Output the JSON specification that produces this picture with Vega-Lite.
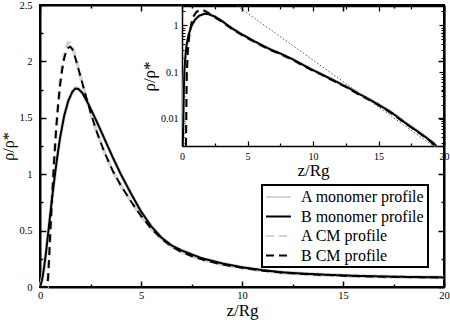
{
"$schema": "https://vega.github.io/schema/vega-lite/v6.json",
"width": 404, "height": 282,
"autosize": {"type": "none"},
"padding": {"left": 40, "top": 5, "right": 6, "bottom": 41},
"background": "white",
"config": {
  "view": {"stroke": "black", "strokeWidth": 2},
  "font": "Liberation Serif, Times New Roman, Times, DejaVu Serif, serif",
  "axis": {"grid": false, "domainColor": "black", "tickColor": "black", "labelColor": "black", "titleColor": "black", "labelFont": "Liberation Serif, Times New Roman, Times, DejaVu Serif, serif", "titleFont": "Liberation Serif, Times New Roman, Times, DejaVu Serif, serif", "titleFontWeight": "normal", "labelFlush": false, "labelOverlap": false},
  "legend": {"orient": "none", "legendX": 222, "legendY": 180, "strokeColor": "black", "strokeWidth": 2, "fillColor": "white", "padding": 3, "labelFont": "Liberation Serif, Times New Roman, Times, DejaVu Serif, serif", "labelFontSize": 16, "labelColor": "black", "symbolType": "M-1,0H2.125", "symbolSize": 256, "symbolStrokeWidth": 2, "labelOffset": 18, "rowPadding": 2.5, "labelLimit": 300, "title": null}
},
"datasets": {
  "main": [
    {"s":"B monomer profile","z":0,"v":0},{"s":"B monomer profile","z":0.1,"v":0.06},{"s":"B monomer profile","z":0.2,"v":0.17},{"s":"B monomer profile","z":0.3,"v":0.31},{"s":"B monomer profile","z":0.4,"v":0.47},{"s":"B monomer profile","z":0.5,"v":0.63},{"s":"B monomer profile","z":0.6,"v":0.79},{"s":"B monomer profile","z":0.7,"v":0.94},{"s":"B monomer profile","z":0.8,"v":1.08},{"s":"B monomer profile","z":0.9,"v":1.21},{"s":"B monomer profile","z":1,"v":1.33},{"s":"B monomer profile","z":1.2,"v":1.52},{"s":"B monomer profile","z":1.4,"v":1.65},{"s":"B monomer profile","z":1.6,"v":1.73},{"s":"B monomer profile","z":1.75,"v":1.76},{"s":"B monomer profile","z":1.9,"v":1.755},{"s":"B monomer profile","z":2.1,"v":1.72},{"s":"B monomer profile","z":2.4,"v":1.62},{"s":"B monomer profile","z":2.8,"v":1.47},{"s":"B monomer profile","z":3.2,"v":1.31},{"s":"B monomer profile","z":3.6,"v":1.15},{"s":"B monomer profile","z":4,"v":1.0},{"s":"B monomer profile","z":4.5,"v":0.83},{"s":"B monomer profile","z":5,"v":0.67},{"s":"B monomer profile","z":5.5,"v":0.54},{"s":"B monomer profile","z":6,"v":0.44},{"s":"B monomer profile","z":6.5,"v":0.37},{"s":"B monomer profile","z":7,"v":0.325},{"s":"B monomer profile","z":7.5,"v":0.29},{"s":"B monomer profile","z":8,"v":0.255},{"s":"B monomer profile","z":9,"v":0.21},{"s":"B monomer profile","z":10,"v":0.175},{"s":"B monomer profile","z":11,"v":0.15},{"s":"B monomer profile","z":12,"v":0.13},{"s":"B monomer profile","z":13,"v":0.119},{"s":"B monomer profile","z":14,"v":0.11},{"s":"B monomer profile","z":15,"v":0.103},{"s":"B monomer profile","z":16,"v":0.097},{"s":"B monomer profile","z":17,"v":0.093},{"s":"B monomer profile","z":18,"v":0.09},{"s":"B monomer profile","z":19,"v":0.087},{"s":"B monomer profile","z":20,"v":0.085},
    {"s":"A monomer profile","z":0,"v":0},{"s":"A monomer profile","z":0.1,"v":0.06},{"s":"A monomer profile","z":0.2,"v":0.17},{"s":"A monomer profile","z":0.3,"v":0.31},{"s":"A monomer profile","z":0.4,"v":0.47},{"s":"A monomer profile","z":0.5,"v":0.63},{"s":"A monomer profile","z":0.6,"v":0.79},{"s":"A monomer profile","z":0.7,"v":0.94},{"s":"A monomer profile","z":0.8,"v":1.08},{"s":"A monomer profile","z":0.9,"v":1.21},{"s":"A monomer profile","z":1,"v":1.33},{"s":"A monomer profile","z":1.2,"v":1.52},{"s":"A monomer profile","z":1.4,"v":1.65},{"s":"A monomer profile","z":1.6,"v":1.73},{"s":"A monomer profile","z":1.75,"v":1.765},{"s":"A monomer profile","z":1.9,"v":1.76},{"s":"A monomer profile","z":2.1,"v":1.72},{"s":"A monomer profile","z":2.4,"v":1.62},{"s":"A monomer profile","z":2.8,"v":1.47},{"s":"A monomer profile","z":3.2,"v":1.31},{"s":"A monomer profile","z":3.6,"v":1.15},{"s":"A monomer profile","z":4,"v":1.0},{"s":"A monomer profile","z":4.5,"v":0.83},{"s":"A monomer profile","z":5,"v":0.67},{"s":"A monomer profile","z":5.5,"v":0.54},{"s":"A monomer profile","z":6,"v":0.44},{"s":"A monomer profile","z":6.5,"v":0.37},{"s":"A monomer profile","z":7,"v":0.325},{"s":"A monomer profile","z":7.5,"v":0.29},{"s":"A monomer profile","z":8,"v":0.255},{"s":"A monomer profile","z":9,"v":0.21},{"s":"A monomer profile","z":10,"v":0.175},{"s":"A monomer profile","z":11,"v":0.15},{"s":"A monomer profile","z":12,"v":0.13},{"s":"A monomer profile","z":13,"v":0.119},{"s":"A monomer profile","z":14,"v":0.11},{"s":"A monomer profile","z":15,"v":0.103},{"s":"A monomer profile","z":16,"v":0.097},{"s":"A monomer profile","z":17,"v":0.093},{"s":"A monomer profile","z":18,"v":0.09},{"s":"A monomer profile","z":19,"v":0.087},{"s":"A monomer profile","z":20,"v":0.085},
    {"s":"B CM profile","z":0,"v":0},{"s":"B CM profile","z":0.35,"v":0},{"s":"B CM profile","z":0.4,"v":0.08},{"s":"B CM profile","z":0.45,"v":0.25},{"s":"B CM profile","z":0.5,"v":0.45},{"s":"B CM profile","z":0.6,"v":0.8},{"s":"B CM profile","z":0.7,"v":1.12},{"s":"B CM profile","z":0.8,"v":1.4},{"s":"B CM profile","z":0.9,"v":1.62},{"s":"B CM profile","z":1,"v":1.8},{"s":"B CM profile","z":1.1,"v":1.93},{"s":"B CM profile","z":1.2,"v":2.03},{"s":"B CM profile","z":1.3,"v":2.09},{"s":"B CM profile","z":1.4,"v":2.12},{"s":"B CM profile","z":1.5,"v":2.13},{"s":"B CM profile","z":1.6,"v":2.11},{"s":"B CM profile","z":1.7,"v":2.06},{"s":"B CM profile","z":1.8,"v":2.0},{"s":"B CM profile","z":2,"v":1.87},{"s":"B CM profile","z":2.2,"v":1.74},{"s":"B CM profile","z":2.5,"v":1.55},{"s":"B CM profile","z":2.8,"v":1.38},{"s":"B CM profile","z":3.2,"v":1.19},{"s":"B CM profile","z":3.6,"v":1.03},{"s":"B CM profile","z":4,"v":0.9},{"s":"B CM profile","z":4.5,"v":0.76},{"s":"B CM profile","z":5,"v":0.63},{"s":"B CM profile","z":5.5,"v":0.52},{"s":"B CM profile","z":6,"v":0.43},{"s":"B CM profile","z":6.5,"v":0.36},{"s":"B CM profile","z":7,"v":0.31},{"s":"B CM profile","z":7.5,"v":0.275},{"s":"B CM profile","z":8,"v":0.245},{"s":"B CM profile","z":9,"v":0.2},{"s":"B CM profile","z":10,"v":0.17},{"s":"B CM profile","z":11,"v":0.145},{"s":"B CM profile","z":12,"v":0.127},{"s":"B CM profile","z":13,"v":0.116},{"s":"B CM profile","z":14,"v":0.107},{"s":"B CM profile","z":15,"v":0.1},{"s":"B CM profile","z":16,"v":0.095},{"s":"B CM profile","z":17,"v":0.091},{"s":"B CM profile","z":18,"v":0.088},{"s":"B CM profile","z":19,"v":0.086},{"s":"B CM profile","z":20,"v":0.084},
    {"s":"A CM profile","z":0,"v":0},{"s":"A CM profile","z":0.35,"v":0},{"s":"A CM profile","z":0.4,"v":0.08},{"s":"A CM profile","z":0.45,"v":0.25},{"s":"A CM profile","z":0.5,"v":0.45},{"s":"A CM profile","z":0.6,"v":0.8},{"s":"A CM profile","z":0.7,"v":1.12},{"s":"A CM profile","z":0.8,"v":1.41},{"s":"A CM profile","z":0.9,"v":1.63},{"s":"A CM profile","z":1,"v":1.82},{"s":"A CM profile","z":1.1,"v":1.96},{"s":"A CM profile","z":1.2,"v":2.06},{"s":"A CM profile","z":1.3,"v":2.13},{"s":"A CM profile","z":1.4,"v":2.165},{"s":"A CM profile","z":1.5,"v":2.16},{"s":"A CM profile","z":1.6,"v":2.13},{"s":"A CM profile","z":1.7,"v":2.07},{"s":"A CM profile","z":1.8,"v":2.01},{"s":"A CM profile","z":2,"v":1.87},{"s":"A CM profile","z":2.2,"v":1.74},{"s":"A CM profile","z":2.5,"v":1.55},{"s":"A CM profile","z":2.8,"v":1.38},{"s":"A CM profile","z":3.2,"v":1.19},{"s":"A CM profile","z":3.6,"v":1.03},{"s":"A CM profile","z":4,"v":0.9},{"s":"A CM profile","z":4.5,"v":0.76},{"s":"A CM profile","z":5,"v":0.63},{"s":"A CM profile","z":5.5,"v":0.52},{"s":"A CM profile","z":6,"v":0.43},{"s":"A CM profile","z":6.5,"v":0.36},{"s":"A CM profile","z":7,"v":0.31},{"s":"A CM profile","z":7.5,"v":0.275},{"s":"A CM profile","z":8,"v":0.245},{"s":"A CM profile","z":9,"v":0.2},{"s":"A CM profile","z":10,"v":0.17},{"s":"A CM profile","z":11,"v":0.145},{"s":"A CM profile","z":12,"v":0.127},{"s":"A CM profile","z":13,"v":0.116},{"s":"A CM profile","z":14,"v":0.107},{"s":"A CM profile","z":15,"v":0.1},{"s":"A CM profile","z":16,"v":0.095},{"s":"A CM profile","z":17,"v":0.091},{"s":"A CM profile","z":18,"v":0.088},{"s":"A CM profile","z":19,"v":0.086},{"s":"A CM profile","z":20,"v":0.084}
  ],
  "inset": [
    {"s":"B monomer profile","z":0.06,"v":0.0026},{"s":"B monomer profile","z":0.1,"v":0.01},{"s":"B monomer profile","z":0.14,"v":0.04},{"s":"B monomer profile","z":0.18,"v":0.1},{"s":"B monomer profile","z":0.25,"v":0.2},{"s":"B monomer profile","z":0.35,"v":0.38},{"s":"B monomer profile","z":0.5,"v":0.62},{"s":"B monomer profile","z":0.74,"v":1.0},{"s":"B monomer profile","z":1.0,"v":1.33},{"s":"B monomer profile","z":1.3,"v":1.6},{"s":"B monomer profile","z":1.7,"v":1.77},{"s":"B monomer profile","z":2.0,"v":1.74},{"s":"B monomer profile","z":2.5,"v":1.55},{"s":"B monomer profile","z":3.0,"v":1.27},{"s":"B monomer profile","z":3.5,"v":1.0},{"s":"B monomer profile","z":4.0,"v":0.8},{"s":"B monomer profile","z":4.5,"v":0.66},{"s":"B monomer profile","z":5.0,"v":0.55},{"s":"B monomer profile","z":5.5,"v":0.46},{"s":"B monomer profile","z":6.0,"v":0.39},{"s":"B monomer profile","z":6.5,"v":0.33},{"s":"B monomer profile","z":7.0,"v":0.285},{"s":"B monomer profile","z":7.5,"v":0.25},{"s":"B monomer profile","z":8.0,"v":0.215},{"s":"B monomer profile","z":8.5,"v":0.185},{"s":"B monomer profile","z":9.0,"v":0.155},{"s":"B monomer profile","z":9.5,"v":0.13},{"s":"B monomer profile","z":10,"v":0.11},{"s":"B monomer profile","z":10.5,"v":0.094},{"s":"B monomer profile","z":11,"v":0.08},{"s":"B monomer profile","z":11.5,"v":0.068},{"s":"B monomer profile","z":12,"v":0.058},{"s":"B monomer profile","z":12.3,"v":0.052},{"s":"B monomer profile","z":12.5,"v":0.049},{"s":"B monomer profile","z":12.8,"v":0.044},{"s":"B monomer profile","z":13,"v":0.041},{"s":"B monomer profile","z":13.5,"v":0.034},{"s":"B monomer profile","z":14,"v":0.029},{"s":"B monomer profile","z":14.5,"v":0.024},{"s":"B monomer profile","z":15,"v":0.02},{"s":"B monomer profile","z":15.5,"v":0.0165},{"s":"B monomer profile","z":16,"v":0.0135},{"s":"B monomer profile","z":16.5,"v":0.0106},{"s":"B monomer profile","z":17,"v":0.0083},{"s":"B monomer profile","z":17.5,"v":0.0066},{"s":"B monomer profile","z":18,"v":0.0053},{"s":"B monomer profile","z":18.5,"v":0.0042},{"s":"B monomer profile","z":19,"v":0.0033},{"s":"B monomer profile","z":19.2,"v":0.003},{"s":"B monomer profile","z":19.4,"v":0.0026},
    {"s":"A monomer profile","z":0.06,"v":0.0026},{"s":"A monomer profile","z":0.1,"v":0.01},{"s":"A monomer profile","z":0.14,"v":0.04},{"s":"A monomer profile","z":0.18,"v":0.1},{"s":"A monomer profile","z":0.25,"v":0.2},{"s":"A monomer profile","z":0.35,"v":0.38},{"s":"A monomer profile","z":0.5,"v":0.62},{"s":"A monomer profile","z":0.74,"v":1.0},{"s":"A monomer profile","z":1.0,"v":1.33},{"s":"A monomer profile","z":1.3,"v":1.6},{"s":"A monomer profile","z":1.7,"v":1.77},{"s":"A monomer profile","z":2.0,"v":1.74},{"s":"A monomer profile","z":2.5,"v":1.55},{"s":"A monomer profile","z":3.0,"v":1.27},{"s":"A monomer profile","z":3.5,"v":1.0},{"s":"A monomer profile","z":4.0,"v":0.8},{"s":"A monomer profile","z":4.5,"v":0.66},{"s":"A monomer profile","z":5.0,"v":0.55},{"s":"A monomer profile","z":5.5,"v":0.46},{"s":"A monomer profile","z":6.0,"v":0.39},{"s":"A monomer profile","z":6.5,"v":0.33},{"s":"A monomer profile","z":7.0,"v":0.285},{"s":"A monomer profile","z":7.5,"v":0.25},{"s":"A monomer profile","z":8.0,"v":0.215},{"s":"A monomer profile","z":8.5,"v":0.186},{"s":"A monomer profile","z":9.0,"v":0.155},{"s":"A monomer profile","z":9.5,"v":0.131},{"s":"A monomer profile","z":10,"v":0.11},{"s":"A monomer profile","z":10.5,"v":0.095},{"s":"A monomer profile","z":11,"v":0.08},{"s":"A monomer profile","z":11.5,"v":0.069},{"s":"A monomer profile","z":12,"v":0.058},{"s":"A monomer profile","z":12.5,"v":0.05},{"s":"A monomer profile","z":13,"v":0.042},{"s":"A monomer profile","z":13.5,"v":0.035},{"s":"A monomer profile","z":14,"v":0.029},{"s":"A monomer profile","z":14.5,"v":0.025},{"s":"A monomer profile","z":15,"v":0.02},{"s":"A monomer profile","z":15.5,"v":0.017},{"s":"A monomer profile","z":16,"v":0.0135},{"s":"A monomer profile","z":16.5,"v":0.011},{"s":"A monomer profile","z":17,"v":0.0085},{"s":"A monomer profile","z":17.5,"v":0.0068},{"s":"A monomer profile","z":18,"v":0.0055},{"s":"A monomer profile","z":18.5,"v":0.0043},{"s":"A monomer profile","z":19,"v":0.0034},{"s":"A monomer profile","z":19.4,"v":0.0026},
    {"s":"B CM profile","z":0.3,"v":0.0026},{"s":"B CM profile","z":0.32,"v":0.008},{"s":"B CM profile","z":0.34,"v":0.03},{"s":"B CM profile","z":0.37,"v":0.1},{"s":"B CM profile","z":0.45,"v":0.3},{"s":"B CM profile","z":0.55,"v":0.6},{"s":"B CM profile","z":0.7,"v":1.05},{"s":"B CM profile","z":0.9,"v":1.6},{"s":"B CM profile","z":1.1,"v":1.93},{"s":"B CM profile","z":1.3,"v":2.09},{"s":"B CM profile","z":1.5,"v":2.13},{"s":"B CM profile","z":1.7,"v":2.06},{"s":"B CM profile","z":2.0,"v":1.85},{"s":"B CM profile","z":2.5,"v":1.5},{"s":"B CM profile","z":3.0,"v":1.22},{"s":"B CM profile","z":3.5,"v":0.97},{"s":"B CM profile","z":4.0,"v":0.78},{"s":"B CM profile","z":4.5,"v":0.64},{"s":"B CM profile","z":5.0,"v":0.535},{"s":"B CM profile","z":5.5,"v":0.447},{"s":"B CM profile","z":6.0,"v":0.378},{"s":"B CM profile","z":6.5,"v":0.32},{"s":"B CM profile","z":7.0,"v":0.277},{"s":"B CM profile","z":7.5,"v":0.243},{"s":"B CM profile","z":8.0,"v":0.209},{"s":"B CM profile","z":8.5,"v":0.18},{"s":"B CM profile","z":9.0,"v":0.15},{"s":"B CM profile","z":9.5,"v":0.126},{"s":"B CM profile","z":10,"v":0.107},{"s":"B CM profile","z":10.5,"v":0.092},{"s":"B CM profile","z":11,"v":0.078},{"s":"B CM profile","z":11.5,"v":0.066},{"s":"B CM profile","z":12,"v":0.056},{"s":"B CM profile","z":12.5,"v":0.048},{"s":"B CM profile","z":13,"v":0.04},{"s":"B CM profile","z":13.5,"v":0.033},{"s":"B CM profile","z":14,"v":0.028},{"s":"B CM profile","z":14.5,"v":0.0235},{"s":"B CM profile","z":15,"v":0.0195},{"s":"B CM profile","z":15.5,"v":0.016},{"s":"B CM profile","z":16,"v":0.013},{"s":"B CM profile","z":16.5,"v":0.0103},{"s":"B CM profile","z":17,"v":0.0081},{"s":"B CM profile","z":17.5,"v":0.0065},{"s":"B CM profile","z":18,"v":0.0052},{"s":"B CM profile","z":18.5,"v":0.0041},{"s":"B CM profile","z":19,"v":0.0032},{"s":"B CM profile","z":19.3,"v":0.0026},
    {"s":"A CM profile","z":0.3,"v":0.0026},{"s":"A CM profile","z":0.32,"v":0.008},{"s":"A CM profile","z":0.34,"v":0.03},{"s":"A CM profile","z":0.37,"v":0.1},{"s":"A CM profile","z":0.45,"v":0.3},{"s":"A CM profile","z":0.55,"v":0.6},{"s":"A CM profile","z":0.7,"v":1.06},{"s":"A CM profile","z":0.9,"v":1.62},{"s":"A CM profile","z":1.1,"v":1.96},{"s":"A CM profile","z":1.3,"v":2.13},{"s":"A CM profile","z":1.5,"v":2.16},{"s":"A CM profile","z":1.7,"v":2.07},{"s":"A CM profile","z":2.0,"v":1.85},{"s":"A CM profile","z":2.5,"v":1.5},{"s":"A CM profile","z":3.0,"v":1.22},{"s":"A CM profile","z":3.5,"v":0.97},{"s":"A CM profile","z":4.0,"v":0.78},{"s":"A CM profile","z":4.5,"v":0.64},{"s":"A CM profile","z":5.0,"v":0.535},{"s":"A CM profile","z":5.5,"v":0.447},{"s":"A CM profile","z":6.0,"v":0.378},{"s":"A CM profile","z":6.5,"v":0.32},{"s":"A CM profile","z":7.0,"v":0.277},{"s":"A CM profile","z":7.5,"v":0.243},{"s":"A CM profile","z":8.0,"v":0.209},{"s":"A CM profile","z":8.5,"v":0.18},{"s":"A CM profile","z":9.0,"v":0.15},{"s":"A CM profile","z":9.5,"v":0.127},{"s":"A CM profile","z":10,"v":0.107},{"s":"A CM profile","z":10.5,"v":0.093},{"s":"A CM profile","z":11,"v":0.078},{"s":"A CM profile","z":11.5,"v":0.067},{"s":"A CM profile","z":12,"v":0.056},{"s":"A CM profile","z":12.5,"v":0.049},{"s":"A CM profile","z":13,"v":0.04},{"s":"A CM profile","z":13.5,"v":0.034},{"s":"A CM profile","z":14,"v":0.028},{"s":"A CM profile","z":14.5,"v":0.024},{"s":"A CM profile","z":15,"v":0.0195},{"s":"A CM profile","z":15.5,"v":0.0165},{"s":"A CM profile","z":16,"v":0.013},{"s":"A CM profile","z":16.5,"v":0.0107},{"s":"A CM profile","z":17,"v":0.0081},{"s":"A CM profile","z":17.5,"v":0.0068},{"s":"A CM profile","z":18,"v":0.0052},{"s":"A CM profile","z":18.5,"v":0.0043},{"s":"A CM profile","z":19,"v":0.0032},{"s":"A CM profile","z":19.3,"v":0.0026}
  ],
  "dot": [{"z": 4.23, "v": 2.6}, {"z": 19.17, "v": 0.0026}]
},
"layer": [
  {
    "data": {"name": "main"},
    "resolve": {"axis": {"x": "independent", "y": "independent"}},
    "layer": [
      {
        "transform": [{"filter": "indexof(datum.s, 'A ') === 0"}],
        "mark": {"type": "line", "strokeWidth": 3.5},
        "encoding": {
          "x": {"field": "z", "type": "quantitative", "scale": {"domain": [0, 20], "nice": false, "zero": false},
                "axis": {"orient": "bottom", "values": [0, 5, 10, 15, 20], "tickSize": -6, "tickWidth": 1.5, "domainWidth": 2, "labelPadding": 9, "labelFontSize": 10.5, "title": "z/Rg", "titleFontSize": 17, "titlePadding": 2}},
          "y": {"field": "v", "type": "quantitative", "scale": {"domain": [0, 2.5], "nice": false, "zero": false},
                "axis": {"orient": "left", "values": [0, 0.5, 1, 1.5, 2, 2.5], "format": "~g", "tickSize": -6, "tickWidth": 1.5, "domainWidth": 2, "labelPadding": 14, "labelFontSize": 10.5, "title": "ρ/ρ*", "titleFontSize": 16, "titlePadding": 2}},
          "color": {"field": "s", "type": "nominal", "scale": {"domain": ["A monomer profile", "B monomer profile", "A CM profile", "B CM profile"], "range": ["#d4d4d4", "black", "#d4d4d4", "black"]}, "legend": {"title": null}},
          "strokeDash": {"field": "s", "type": "nominal", "scale": {"domain": ["A monomer profile", "B monomer profile", "A CM profile", "B CM profile"], "range": [[1, 0], [1, 0], [8, 5], [8, 5]]}, "legend": {"title": null}}
        }
      },
      {
        "transform": [{"filter": "indexof(datum.s, 'B ') === 0"}],
        "mark": {"type": "line", "strokeWidth": 2},
        "encoding": {
          "x": {"field": "z", "type": "quantitative", "axis": {"orient": "bottom", "values": [2.5, 7.5, 12.5, 17.5], "tickSize": -3, "tickWidth": 1.5, "labels": false, "domain": false, "title": null}},
          "y": {"field": "v", "type": "quantitative", "axis": {"orient": "left", "values": [0.25, 0.75, 1.25, 1.75, 2.25], "tickSize": -3, "tickWidth": 1.5, "labels": false, "domain": false, "title": null}},
          "color": {"field": "s", "type": "nominal"},
          "strokeDash": {"field": "s", "type": "nominal"}
        }
      },
      {
        "mark": {"type": "point", "opacity": 0},
        "encoding": {
          "x": {"field": "z", "type": "quantitative", "axis": {"orient": "top", "values": [0, 5, 10, 15, 20], "tickSize": -6, "tickWidth": 1.5, "domainWidth": 2, "labels": false, "title": null}},
          "y": {"field": "v", "type": "quantitative", "axis": {"orient": "right", "values": [0, 0.5, 1, 1.5, 2, 2.5], "tickSize": -6, "tickWidth": 1.5, "domainWidth": 2, "labels": false, "title": null}}
        }
      },
      {
        "mark": {"type": "point", "opacity": 0},
        "encoding": {
          "x": {"field": "z", "type": "quantitative", "axis": {"orient": "top", "values": [2.5, 7.5, 12.5, 17.5], "tickSize": -3, "tickWidth": 1.5, "domain": false, "labels": false, "title": null}},
          "y": {"field": "v", "type": "quantitative", "axis": {"orient": "right", "values": [0.25, 0.75, 1.25, 1.75, 2.25], "tickSize": -3, "tickWidth": 1.5, "domain": false, "labels": false, "title": null}}
        }
      }
    ]
  },
  {
    "resolve": {"axis": {"x": "independent", "y": "independent"}},
    "layer": [
      {
        "data": {"name": "inset"},
        "transform": [{"filter": "indexof(datum.s, 'A ') === 0"}],
        "mark": {"type": "line", "strokeWidth": 3},
        "encoding": {
          "x": {"field": "z", "type": "quantitative", "scale": {"domain": [0, 20], "range": [142, 404], "nice": false, "zero": false},
                "axis": {"orient": "bottom", "offset": -141, "values": [0, 5, 10, 15, 20], "tickSize": -5, "tickWidth": 1.2, "domainWidth": 1.5, "labelPadding": 10, "labelFontSize": 10, "title": "z/Rg", "titleFontSize": 17, "titlePadding": 1}},
          "y": {"field": "v", "type": "quantitative", "scale": {"type": "log", "domain": [0.0026, 2.6], "range": [141, 1], "nice": false},
                "axis": {"orient": "left", "offset": -142, "values": [0.01, 0.1, 1], "format": "~g", "tickSize": -5, "tickWidth": 1.2, "domainWidth": 1.5, "labelPadding": 9, "labelFontSize": 10, "title": "ρ/ρ*", "titleFontSize": 17, "titlePadding": 2}},
          "color": {"field": "s", "type": "nominal"},
          "strokeDash": {"field": "s", "type": "nominal"}
        }
      },
      {
        "data": {"name": "inset"},
        "transform": [{"filter": "indexof(datum.s, 'B ') === 0"}],
        "mark": {"type": "line", "strokeWidth": 2},
        "encoding": {
          "x": {"field": "z", "type": "quantitative", "axis": {"orient": "bottom", "offset": -141, "values": [2.5, 7.5, 12.5, 17.5], "tickSize": -3, "tickWidth": 1.2, "labels": false, "domain": false, "title": null}},
          "y": {"field": "v", "type": "quantitative", "axis": {"orient": "left", "offset": -142, "values": [0.003, 0.004, 0.005, 0.006, 0.007, 0.008, 0.009, 0.02, 0.03, 0.04, 0.05, 0.06, 0.07, 0.08, 0.09, 0.2, 0.3, 0.4, 0.5, 0.6, 0.7, 0.8, 0.9, 2], "tickSize": -3, "tickWidth": 1, "labels": false, "domain": false, "title": null}},
          "color": {"field": "s", "type": "nominal"},
          "strokeDash": {"field": "s", "type": "nominal"}
        }
      },
      {
        "data": {"name": "dot"},
        "mark": {"type": "line", "strokeWidth": 1, "color": "#555555", "strokeDash": [1.5, 2]},
        "encoding": {
          "x": {"field": "z", "type": "quantitative", "axis": {"orient": "top", "offset": -1, "values": [0, 5, 10, 15, 20], "tickSize": -5, "tickWidth": 1.2, "domainWidth": 1.5, "labels": false, "title": null}},
          "y": {"field": "v", "type": "quantitative", "axis": {"orient": "right", "values": [0.01, 0.1, 1], "tickSize": -5, "tickWidth": 1.2, "domainWidth": 1.5, "labels": false, "title": null}}
        }
      },
      {
        "data": {"name": "dot"},
        "mark": {"type": "point", "opacity": 0},
        "encoding": {
          "x": {"field": "z", "type": "quantitative", "axis": {"orient": "top", "offset": -1, "values": [2.5, 7.5, 12.5, 17.5], "tickSize": -3, "tickWidth": 1.2, "domain": false, "labels": false, "title": null}},
          "y": {"field": "v", "type": "quantitative", "axis": {"orient": "right", "values": [0.003, 0.004, 0.005, 0.006, 0.007, 0.008, 0.009, 0.02, 0.03, 0.04, 0.05, 0.06, 0.07, 0.08, 0.09, 0.2, 0.3, 0.4, 0.5, 0.6, 0.7, 0.8, 0.9, 2], "tickSize": -3, "tickWidth": 1, "domain": false, "labels": false, "title": null}}
        }
      }
    ]
  }
],
"resolve": {"scale": {"x": "independent", "y": "independent"}}
}
